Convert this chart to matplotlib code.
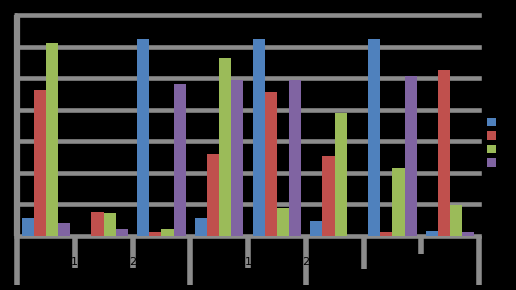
import numpy as np
import matplotlib
matplotlib.use("Agg")
import matplotlib.pyplot as plt
from matplotlib.patches import Patch
import matplotlib.transforms as mtransforms

# ── data (one gridline = 20) ──
categories = ["", "1", "2", "", "1", "2", "", ""]
series_names = ["1", "2", "3", "4"]
blue = [11.4, 0, 125, 11.4, 125, 9.3, 125, 3]
red = [92.4, 15.2, 2.2, 51.8, 91.3, 50.6, 2.2, 105]
green = [122, 14.2, 4, 112.7, 17.4, 77.6, 43.1, 19.5]
purple = [8.2, 4.2, 96.2, 98.8, 98.8, 0, 101.3, 2.2]
colors = ["#4F81BD", "#C0504D", "#9BBB59", "#8064A2"]

# separators under the category axis: boundary index, depth below baseline (px)
sep_index = [0, 1, 2, 3, 4, 5, 6, 7, 8]
sep_depth = [49, 32, 32, 49, 32, 49, 33, 18, 49]

GRAY = "#8c8c8c"
W, H = 516, 290
fig = plt.figure(figsize=(W / 100, H / 100), dpi=100, facecolor="black")
ax_left, ax_right = 17, 479
ax_top, ax_base = 15, 235.7
ax = fig.add_axes([ax_left / W, (H - ax_base) / H,
                   (ax_right - ax_left) / W, (ax_base - ax_top) / H])
ax.set_facecolor("black")

n = len(categories)
x = np.arange(n)
w = 0.21
for j, vals in enumerate([blue, red, green, purple]):
    ax.bar(x + (j - 1.5) * w, vals, width=w, color=colors[j],
           linewidth=0, zorder=3)

ax.set_xlim(-0.5, n - 0.5)
ax.set_ylim(0, 140)
ax.set_yticks(np.arange(0, 160, 20))
ax.yaxis.grid(True, color=GRAY, linewidth=3.3)
for gl in ax.get_ygridlines():
    gl.set_clip_on(False)
ax.set_axisbelow(True)
ax.tick_params(axis="y", direction="out", length=2.5, width=3.3, color=GRAY,
               labelcolor="black", labelsize=4, pad=0.5)
ax.set_xticks(x)
ax.set_xticklabels([])
ax.tick_params(axis="x", length=0)
for s in ax.spines.values():
    s.set_visible(False)

# category axis with multi-level separators
px = ax_base - ax_top
trans = mtransforms.blended_transform_factory(ax.transData, ax.transAxes)
for i, d in zip(sep_index, sep_depth):
    ax.plot([i - 0.5, i - 0.5], [0, -d / px], transform=trans, color=GRAY,
            linewidth=4, clip_on=False, zorder=2, solid_capstyle="butt")
ax.plot([-0.5, -0.5], [1, 0], transform=trans, color=GRAY, linewidth=4.5,
        clip_on=False, zorder=2, solid_capstyle="butt")
for i, lab in enumerate(categories):
    if lab:
        ax.text(i - 0.5, -26 / px, lab, transform=trans, color="black",
                ha="center", va="center", fontsize=8)

handles = [Patch(facecolor=c, edgecolor="none") for c in colors]
fig.legend(handles, series_names, loc="upper left",
           bbox_to_anchor=(487 / W, 1 - 118 / H), frameon=False,
           fontsize=8, labelcolor="black", handlelength=0.8,
           handleheight=0.8, handletextpad=0.4, labelspacing=0.3,
           borderpad=0, borderaxespad=0)

fig.savefig("out.png", dpi=100, facecolor="black")
